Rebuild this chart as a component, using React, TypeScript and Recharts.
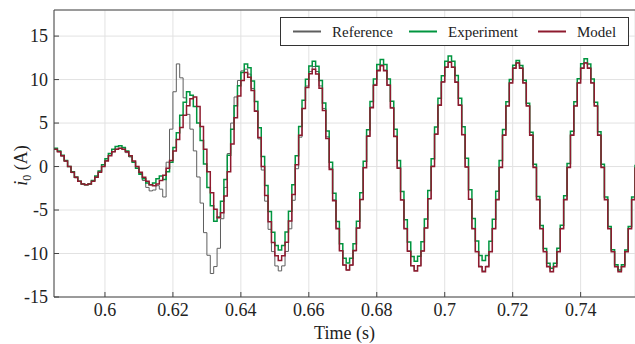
import { CartesianGrid, Legend, Line, LineChart, ReferenceLine, XAxis, YAxis } from 'recharts'

// logged phase current, one sample every millisecond from t = 0.585 s
const startTime = 0.585
const sampleStep = 0.001

const reference = [
	2.0, 1.7, 1.2, 0.6, 0, -0.7, -1.3, -1.7, -2.0, -2.1,
	-2.0, -1.7, -1.2, -0.6, 0, 0.7, 1.3, 1.7, 2.0, 2.1,
	2.0, 1.6, 1.1, 0.5, -0.2, -0.8, -1.6, -2.4, -2.8, -2.7,
	-2.2, -2.6, -3.5, 0.5, 4.3, 8.6, 11.8, 10.2, 7.9, 6.0,
	4.3, 1.8, -1.2, -4.2, -7.6, -10.2, -12.3, -11.5, -9.4, -6.0,
	-2.4, 1.5, 5.0, 8.0, 9.9, 11.0, 11.2, 10.63, 8.98, 6.42,
	3.18, -0.4, -3.98, -7.22, -9.78, -11.43, -12.0, -11.42, -9.76, -7.16,
	-3.88, -0.25, 3.38, 6.66, 9.26, 10.92, 11.5, 10.93, 9.27, 6.68,
	3.42, -0.2, -3.82, -7.08, -9.67, -11.33, -11.9, -11.35, -9.7, -7.1,
	-3.8, -0.1, 3.55, 6.85, 9.45, 11.12, 11.7, 11.1, 9.4, 6.8,
	3.5, -0.15, -3.8, -7.1, -9.7, -11.4, -11.95, -11.4, -9.7, -7.05,
	-3.7, 0.05, 3.75, 7.1, 9.75, 11.45, 12.05, 11.45, 9.75, 7.1,
	3.7, -0.05, -3.75, -7.1, -9.75, -11.45, -12.0, -11.45, -9.75, -7.1,
	-3.75, -0.05, 3.65, 7.0, 9.65, 11.35, 11.95, 11.35, 9.65, 7.0,
	3.65, -0.05, -3.75, -7.1, -9.75, -11.45, -12.05, -11.45, -9.75, -7.1,
	-3.75, -0.05, 3.65, 7.0, 9.65, 11.35, 11.95, 11.35, 9.65, 7.0,
	3.65, -0.05, -3.75, -7.1, -9.75, -11.45, -12.05, -11.45, -9.75, -7.1,
	-3.75, -0.05,
]

const experiment = [
	2.1, 1.8, 1.3, 0.7, 0.0, -0.6, -1.2, -1.7, -2.0, -2.1,
	-2.0, -1.6, -1.1, -0.5, 0.2, 0.9, 1.5, 2.0, 2.3, 2.4,
	2.2, 1.8, 1.2, 0.5, -0.2, -0.9, -1.4, -1.9, -2.1, -1.9,
	-1.4, -1.1, -1.5, -0.6, 0.5, 2.2, 3.9, 5.9, 7.4, 8.6,
	8.2, 6.9, 5.0, 3.0, 0.3, -2.4, -4.5, -6.3, -5.8, -4.0,
	-1.5, 1.3, 4.3, 7.0, 9.3, 10.8, 11.8, 11.37, 9.85, 7.47,
	4.47, 1.15, -2.17, -5.17, -7.55, -9.07, -9.6, -9.07, -7.53, -5.13,
	-2.1, 1.25, 4.6, 7.63, 10.03, 11.57, 12.1, 11.53, 9.88, 7.32,
	4.08, 0.5, -3.08, -6.32, -8.88, -10.53, -11.1, -10.53, -8.87, -6.28,
	-3.02, 0.6, 4.22, 7.48, 10.07, 11.73, 12.3, 11.73, 10.08, 7.52,
	4.28, 0.7, -2.88, -6.12, -8.68, -10.33, -10.9, -10.32, -8.65, -6.04,
	-2.75, 0.9, 4.55, 7.84, 10.45, 12.12, 12.7, 12.12, 10.46, 7.86,
	4.58, 0.95, -2.68, -5.96, -8.56, -10.22, -10.8, -10.24, -8.6, -6.06,
	-2.85, 0.7, 4.25, 7.46, 10.0, 11.64, 12.2, 11.61, 9.92, 7.28,
	3.94, 0.25, -3.44, -6.78, -9.42, -11.11, -11.7, -11.11, -9.4, -6.74,
	-3.37, 0.35, 4.07, 7.44, 10.1, 11.81, 12.4, 11.8, 10.08, 7.39,
	4.0, 0.25, -3.5, -6.89, -9.58, -11.3, -11.9, -11.3, -9.6, -6.9,
	-3.5, 0.2,
]

const model = [
	2.0, 1.7, 1.23, 0.65, 0, -0.65, -1.23, -1.7, -2.0, -2.1,
	-2.0, -1.7, -1.23, -0.65, 0, 0.65, 1.23, 1.7, 2.0, 2.1,
	2.0, 1.7, 1.23, 0.65, 0, -0.65, -1.23, -1.7, -2.1, -2.2,
	-2.0, -1.6, -1.0, -0.2, 0.7, 1.8, 3.1, 4.5, 5.9, 7.0,
	7.8, 8.0, 6.9, 4.6, 2.0, -0.6, -3.0, -4.9, -5.9, -5.3,
	-3.4, -0.6, 2.6, 5.6, 8.1, 9.9, 10.8, 10.27, 8.74, 6.35,
	3.34, 0, -3.34, -6.35, -8.74, -10.27, -10.8, -10.26, -8.7, -6.27,
	-3.2, 0.2, 3.6, 6.67, 9.1, 10.66, 11.2, 10.63, 8.99, 6.44,
	3.22, -0.35, -3.92, -7.14, -9.69, -11.33, -11.9, -11.32, -9.66, -7.06,
	-3.78, -0.15, 3.48, 6.76, 9.36, 11.02, 11.6, 11.02, 9.35, 6.74,
	3.45, -0.2, -3.85, -7.14, -9.75, -11.42, -12.0, -11.41, -9.71, -7.06,
	-3.71, 0, 3.71, 7.06, 9.71, 11.41, 12.0, 11.41, 9.7, 7.04,
	3.67, -0.05, -3.77, -7.14, -9.8, -11.51, -12.1, -11.51, -9.81, -7.16,
	-3.81, -0.1, 3.61, 6.96, 9.61, 11.31, 11.9, 11.31, 9.61, 6.96,
	3.61, -0.1, -3.81, -7.16, -9.81, -11.51, -12.1, -11.51, -9.81, -7.16,
	-3.81, -0.1, 3.61, 6.96, 9.61, 11.31, 11.9, 11.31, 9.61, 6.96,
	3.61, -0.1, -3.81, -7.16, -9.81, -11.51, -12.1, -11.51, -9.81, -7.16,
	-3.81, -0.1,
]

const timeTicks = [0.6, 0.62, 0.64, 0.66, 0.68, 0.7, 0.72, 0.74]
const currentTicks = [-15, -10, -5, 0, 5, 10, 15]
const timeDomain = [0.585, 0.756]
const currentDomain = [-15, 18]

const series = [
	{ key: 'reference', name: 'Reference', color: '#5e5e5e', width: 1 },
	{ key: 'experiment', name: 'Experiment', color: '#00953f', width: 1.5 },
	{ key: 'model', name: 'Model', color: '#8e1a2e', width: 1.5 },
]

const data = reference.map((value, i) => ({
	time: +(startTime + i * sampleStep).toFixed(3),
	reference: value,
	experiment: experiment[i],
	model: model[i],
}))

const font = 'Liberation Serif, Times New Roman, serif'
const ink = '#222'
const frame = '#444'

// legend entry offsets inside the box
const legendSlots = [13, 129, 258]

// boxed legend in the upper right corner, drawn as svg so it shares the serif face
const LegendBox = () => (
	<svg width={349} height={29} style={{ display: 'block' }}>
		<rect x={0.5} y={0.5} width={348} height={28} fill='#fff' stroke='#333' />
		{series.map((s, i) => (
			<g key={s.key} transform={`translate(${legendSlots[i]},0)`}>
				<line x1={0} y1={14.5} x2={28} y2={14.5} stroke={s.color} strokeWidth={2} />
				<text x={39} y={19.5} fontFamily={font} fontSize={15} fill={ink}>
					{s.name}
				</text>
			</g>
		))}
	</svg>
)

// rotated "i0 (A)" with the subscript
const CurrentLabel = ({ viewBox }: { viewBox?: any }) => {
	const x = (viewBox?.x ?? 0) + 27
	const y = (viewBox?.y ?? 0) + (viewBox?.height ?? 0) / 2 + 12
	return (
		<text x={x} y={y} transform={`rotate(-90 ${x} ${y})`} textAnchor='middle' fontFamily={font} fontSize={18} fill={ink}>
			<tspan fontStyle='italic'>i</tspan>
			<tspan fontSize={12} dy={4}>0</tspan>
			<tspan dy={-4}> (A)</tspan>
		</text>
	)
}

export default function App() {
	return (
		<div style={{ position: 'absolute', left: 0, top: 0, width: 635, height: 344, background: '#fff' }}>
			<LineChart width={635} height={344} data={data} margin={{ top: 10, right: 0, bottom: 0, left: 0 }}>
				<CartesianGrid stroke='#e2e2e2' strokeWidth={1} />
				<XAxis
					dataKey='time'
					type='number'
					domain={timeDomain}
					ticks={timeTicks}
					allowDataOverflow
					height={47}
					tickSize={-5}
					tickMargin={11}
					axisLine={{ stroke: frame }}
					tickLine={{ stroke: frame }}
					tick={{ fontFamily: font, fontSize: 18, fill: ink }}
					label={{ value: 'Time (s)', position: 'insideBottom', offset: 5, fontFamily: font, fontSize: 18, fill: ink }}
				/>
				<YAxis
					type='number'
					domain={currentDomain}
					ticks={currentTicks}
					allowDataOverflow
					width={54}
					tickSize={-5}
					tickMargin={11}
					axisLine={{ stroke: frame }}
					tickLine={{ stroke: frame }}
					tick={{ fontFamily: font, fontSize: 18, fill: ink }}
					label={{ content: <CurrentLabel /> }}
				/>
				<ReferenceLine y={currentDomain[1]} stroke={frame} />
				{series.map((s) => (
					<Line
						key={s.key}
						type='stepAfter'
						dataKey={s.key}
						name={s.name}
						stroke={s.color}
						strokeWidth={s.width}
						dot={false}
						activeDot={false}
						isAnimationActive={false}
					/>
				))}
				<Legend
					layout='horizontal'
					verticalAlign='middle'
					align='center'
					content={<LegendBox />}
					wrapperStyle={{ left: 280, top: 17, width: 'auto', height: 'auto' }}
				/>
			</LineChart>
		</div>
	)
}
